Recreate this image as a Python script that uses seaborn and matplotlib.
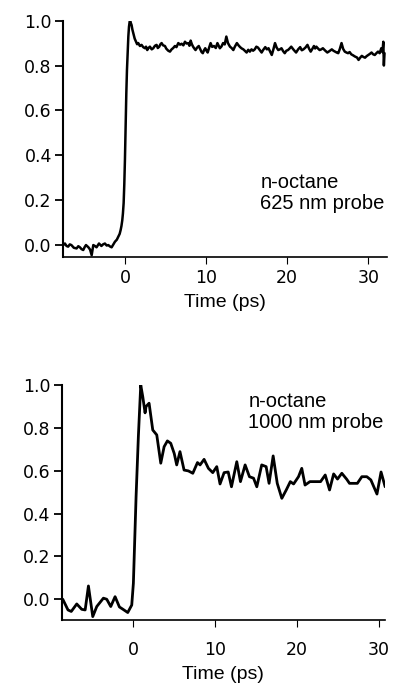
import matplotlib
matplotlib.use('Agg')
import matplotlib.pyplot as plt
import numpy as np
import seaborn as sns

### Data
# n-octane, 625 nm probe
top_time = [
    -7.6, -7.4, -7.2, -7.0, -6.8, -6.6, -6.3, -5.96, -5.75, -5.55, -5.35, -5.14, -4.95, -4.8, -4.5,
    -4.3, -4.1, -3.9, -3.7, -3.5, -3.2, -2.9, -2.7, -2.47, -2.25, -2.05, -1.85, -1.64, -1.45, -1.23,
    -1.0, -0.82, -0.65, -0.53, -0.43, -0.33, -0.25, -0.16, -0.08, 0.0, 0.08, 0.17, 0.25, 0.33, 0.42,
    0.5, 0.62, 0.72, 0.82, 0.92, 1.03, 1.2, 1.36, 1.5, 1.64, 1.85, 2.05, 2.25, 2.47, 2.6,
    2.75, 2.9, 3.08, 3.3, 3.49, 3.7, 3.9, 4.05, 4.23, 4.38, 4.52, 4.7, 4.93, 5.1, 5.34,
    5.55, 5.75, 5.95, 6.16, 6.35, 6.58, 6.8, 6.99, 7.2, 7.4, 7.6, 7.81, 7.95, 8.1, 8.25,
    8.4, 8.55, 8.7, 8.9, 9.1, 9.3, 9.45, 9.6, 9.75, 9.9, 10.05, 10.2, 10.38, 10.56, 10.75,
    10.97, 11.2, 11.4, 11.55, 11.7, 11.9, 12.1, 12.3, 12.5, 12.7, 12.95, 13.15, 13.36, 13.55, 13.8,
    14.0, 14.2, 14.4, 14.6, 14.8, 15.0, 15.2, 15.4, 15.6, 15.8, 16.0, 16.2, 16.4, 16.6, 16.85,
    17.05, 17.3, 17.5, 17.7, 17.9, 18.1, 18.3, 18.5, 18.7, 18.9, 19.1, 19.3, 19.5, 19.7, 19.9,
    20.1, 20.3, 20.5, 20.8, 21.1, 21.35, 21.6, 21.8, 22.0, 22.25, 22.5, 22.7, 22.9, 23.1, 23.3,
    23.45, 23.6, 23.8, 24.0, 24.2, 24.4, 24.7, 24.95, 25.2, 25.5, 25.7, 25.9, 26.1, 26.3, 26.5,
    26.7, 26.9, 27.1, 27.3, 27.5, 27.7, 27.9, 28.1, 28.36, 28.6, 28.8, 29.0, 29.2, 29.4, 29.6,
    29.8, 30.0, 30.2, 30.4, 30.6, 30.8, 31.0, 31.2, 31.4, 31.6, 31.75, 31.85, 31.92, 32.0,
]
top_signal = [
    0.0, 0.007, -0.004, -0.007, 0.003, 0.0, -0.012, -0.015, -0.005, -0.01, -0.018, -0.022, -0.008, 0.0, -0.01,
    -0.02, -0.045, 0.0, -0.004, -0.01, 0.007, -0.004, 0.003, 0.007, -0.002, 0.0, -0.006, -0.01, 0.002, 0.015,
    0.024, 0.037, 0.05, 0.067, 0.085, 0.11, 0.14, 0.187, 0.27, 0.38, 0.52, 0.676, 0.78, 0.855, 0.93,
    0.973, 1.006, 0.99, 0.98, 0.96, 0.944, 0.92, 0.906, 0.895, 0.90, 0.887, 0.892, 0.882, 0.877, 0.884,
    0.869, 0.878, 0.884, 0.872, 0.877, 0.888, 0.892, 0.878, 0.884, 0.895, 0.90, 0.89, 0.887, 0.875, 0.866,
    0.862, 0.872, 0.878, 0.887, 0.882, 0.90, 0.893, 0.897, 0.89, 0.906, 0.898, 0.90, 0.888, 0.911, 0.895,
    0.884, 0.876, 0.869, 0.88, 0.887, 0.872, 0.86, 0.855, 0.868, 0.877, 0.866, 0.858, 0.88, 0.90, 0.883,
    0.887, 0.878, 0.90, 0.888, 0.877, 0.885, 0.90, 0.894, 0.929, 0.90, 0.884, 0.878, 0.869, 0.884, 0.90,
    0.89, 0.882, 0.876, 0.872, 0.865, 0.858, 0.87, 0.862, 0.872, 0.866, 0.872, 0.884, 0.88, 0.87, 0.858,
    0.87, 0.882, 0.872, 0.877, 0.862, 0.847, 0.872, 0.90, 0.88, 0.869, 0.872, 0.877, 0.864, 0.855, 0.866,
    0.869, 0.876, 0.884, 0.87, 0.858, 0.872, 0.882, 0.868, 0.872, 0.88, 0.892, 0.875, 0.862, 0.874, 0.887,
    0.876, 0.884, 0.876, 0.869, 0.872, 0.877, 0.866, 0.858, 0.864, 0.872, 0.866, 0.862, 0.858, 0.855, 0.875,
    0.90, 0.874, 0.862, 0.858, 0.855, 0.86, 0.85, 0.846, 0.84, 0.836, 0.825, 0.835, 0.843, 0.838, 0.835,
    0.842, 0.847, 0.852, 0.858, 0.85, 0.847, 0.855, 0.862, 0.855, 0.877, 0.86, 0.906, 0.80, 0.855,
]

# n-octane, 1000 nm probe
bottom_time = [
    -8.64, -8.0, -7.6, -6.93, -6.32, -5.9, -5.5, -4.97, -4.48, -3.67, -3.26, -2.77, -2.24, -1.71, -1.35,
    -0.69, -0.2, 0.0, 0.33, 0.61, 0.9, 1.15, 1.43, 1.55, 1.92, 2.37, 2.86, 3.35, 3.76, 4.16,
    4.57, 5.0, 5.3, 5.7, 6.2, 6.73, 7.27, 7.84, 8.16, 8.65, 9.18, 9.71, 10.2, 10.6, 11.1,
    11.6, 12.0, 12.65, 13.1, 13.67, 14.2, 14.7, 15.1, 15.7, 16.24, 16.6, 17.1, 17.6, 18.16, 18.7,
    19.2, 19.6, 20.2, 20.6, 21.0, 21.6, 22.3, 22.9, 23.47, 24.0, 24.5, 24.97, 25.5, 26.1, 26.44,
    26.9, 27.4, 27.95, 28.56, 29.05, 29.8, 30.3, 30.8,
]
bottom_signal = [
    0.0, -0.05, -0.057, -0.022, -0.047, -0.05, 0.062, -0.081, -0.034, 0.005, 0.0, -0.034, 0.012, -0.036, -0.045,
    -0.062, -0.027, 0.075, 0.48, 0.76, 1.0, 0.945, 0.87, 0.9, 0.915, 0.79, 0.767, 0.635, 0.712, 0.739,
    0.728, 0.68, 0.627, 0.689, 0.603, 0.599, 0.588, 0.638, 0.627, 0.653, 0.611, 0.591, 0.619, 0.538, 0.591,
    0.594, 0.525, 0.642, 0.549, 0.627, 0.572, 0.565, 0.525, 0.627, 0.619, 0.541, 0.669, 0.541, 0.471, 0.51,
    0.549, 0.538, 0.572, 0.611, 0.533, 0.549, 0.549, 0.549, 0.58, 0.51, 0.585, 0.561, 0.588, 0.56, 0.541,
    0.541, 0.541, 0.572, 0.572, 0.557, 0.491, 0.594, 0.525,
]

y_ticks = [0.0, 0.2, 0.4, 0.6, 0.8, 1.0]
y_tick_labels = ['0.0', '0.2', '0.4', '0.6', '0.8', '1.0']
x_ticks = [0, 10, 20, 30]
x_tick_labels = ['0', '10', '20', '30']


def draw_panel(ax, time, signal, xlim, ylim, lw, label_lines, label_pos, xtick_pad):
    sns.lineplot(x=time, y=signal, ax=ax, color='black', linewidth=lw, estimator=None, sort=False)
    ax.set_xlim(*xlim)
    ax.set_ylim(*ylim)
    ax.set_yticks(y_ticks)
    ax.set_yticklabels(y_tick_labels, fontsize=12.5, family='DejaVu Sans')
    ax.set_xticks(x_ticks)
    ax.set_xticklabels(x_tick_labels, fontsize=12.5, family='DejaVu Sans')
    ax.tick_params(axis='y', length=6, width=1.3, pad=2, color='black', labelcolor='black')
    ax.tick_params(axis='x', length=5, width=0.8, pad=xtick_pad, color='black', labelcolor='black')
    ax.set_xlabel('Time (ps)', fontsize=14, family='Liberation Sans', labelpad=5, color='black')
    ax.set_ylabel('')
    sns.despine(ax=ax)
    ax.spines['left'].set_linewidth(1.5)
    ax.spines['bottom'].set_linewidth(1.2)
    ax.spines['left'].set_color('black')
    ax.spines['bottom'].set_color('black')
    for i, line in enumerate(label_lines):
        ax.text(label_pos[0], label_pos[1] - i * 0.088, line, transform=ax.transAxes,
                fontsize=14.5, family='Liberation Sans', ha='left', va='center', color='black')


sns.set_style('ticks')
fig = plt.figure(figsize=(3.93, 6.88), dpi=100)

ax_top = fig.add_axes([0.160, 0.6265, 0.824, 0.3435])
draw_panel(ax_top, top_time, top_signal, (-7.65, 32.27), (-0.053, 1.0), 1.8,
           ['n-octane', '625 nm probe'], (0.61, 0.313), 4)

ax_bot = fig.add_axes([0.157, 0.0988, 0.823, 0.3416])
draw_panel(ax_bot, bottom_time, bottom_signal, (-8.77, 30.8), (-0.097, 1.0), 2.0,
           ['n-octane', '1000 nm probe'], (0.577, 0.929), 10)

fig.savefig('out.png', dpi=100)
plt.close(fig)
